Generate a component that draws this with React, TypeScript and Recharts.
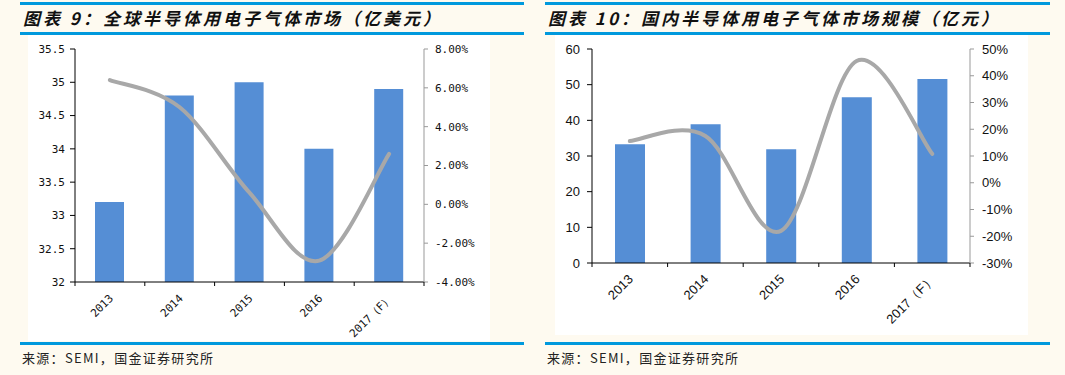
import React from 'react';
import { ComposedChart, Bar, Line, XAxis, YAxis } from 'recharts';

// 图表 9：全球半导体用电子气体市场（亿美元）
const globalYears = ['2013', '2014', '2015', '2016', '2017（F）'];
const globalMarket = [33.2, 34.8, 35.0, 34.0, 34.9];
const globalGrowth = [6.4, 5.0, 0.6, -2.9, 2.6];
const globalLeftTicks = [32, 32.5, 33, 33.5, 34, 34.5, 35, 35.5];
const globalRightTicks = [-4, -2, 0, 2, 4, 6, 8];

// 图表 10：国内半导体用电子气体市场规模（亿元）
const chinaYears = ['2013', '2014', '2015', '2016', '2017（F）'];
const chinaMarket = [33.3, 38.9, 31.9, 46.5, 51.6];
const chinaGrowth = [15.6, 17.5, -18.0, 45.5, 10.8];
const chinaLeftTicks = [0, 10, 20, 30, 40, 50, 60];
const chinaRightTicks = [-30, -20, -10, 0, 10, 20, 30, 40, 50];

const CREAM = '#fefaf0';
const BLUE = '#0099dd';
const BAR = '#558ed5';
const GREY_LINE = '#a8a8a8';
const CJK = '"Noto Sans CJK SC", sans-serif';

// excel style smoothed line (catmull-rom through every point)
function excelCurve(context: any) {
  let pts: number[][] = [];
  return {
    areaStart() {},
    areaEnd() {},
    lineStart() { pts = []; },
    point(x: number, y: number) { pts.push([+x, +y]); },
    lineEnd() {
      if (!pts.length) return;
      context.moveTo(pts[0][0], pts[0][1]);
      for (let i = 0; i < pts.length - 1; i++) {
        const p0 = pts[i - 1] || pts[i];
        const p1 = pts[i];
        const p2 = pts[i + 1];
        const p3 = pts[i + 2] || p2;
        const t = 1 / 6;
        context.bezierCurveTo(
          p1[0] + (p2[0] - p0[0]) * t, p1[1] + (p2[1] - p0[1]) * t,
          p2[0] - (p3[0] - p1[0]) * t, p2[1] - (p3[1] - p1[1]) * t,
          p2[0], p2[1]
        );
      }
    },
  };
}

const makeTick = (bw: number, count: number, font: string, size: number) => (props: any) => {
  const { x, y, payload, index } = props;
  const tx = x + 4;
  const ty = y + 17;
  return (
    <g>
      <line x1={x - bw / 2} y1={y} x2={x - bw / 2} y2={y + 4} stroke="#000" />
      {index === count - 1 && <line x1={x + bw / 2} y1={y} x2={x + bw / 2} y2={y + 4} stroke="#000" />}
      <text x={tx} y={ty} textAnchor="end" transform={`rotate(-45, ${tx}, ${ty})`}
        fontFamily={font} fontSize={size} fill="#111">{payload.value}</text>
    </g>
  );
};

function Panel({ left, width, title, boxLeft, boxWidth, boxHeight, children }: any) {
  return (
    <>
      <div style={{ position: 'absolute', left, top: 2, width, height: 3, background: BLUE }} />
      <div style={{
        position: 'absolute', left: left + 3, top: 7, fontFamily: CJK, fontSize: 17, fontWeight: 700,
        fontStyle: 'italic', letterSpacing: 3, color: '#111', lineHeight: '22px', whiteSpace: 'nowrap'
      }}>{title}</div>
      <div style={{ position: 'absolute', left, top: 32, width, height: 3, background: BLUE }} />
      <div style={{ position: 'absolute', left: boxLeft, top: 35, width: boxWidth, height: boxHeight, background: '#fff' }} />
      {children}
      <div style={{ position: 'absolute', left, top: 342, width, height: 3, background: BLUE }} />
      <div style={{
        position: 'absolute', left: left + 2, top: 349, fontFamily: CJK, fontSize: 13, letterSpacing: 1.3,
        color: '#222', lineHeight: '18px', whiteSpace: 'nowrap'
      }}>来源：SEMI，国金证券研究所</div>
    </>
  );
}

export default function App() {
  const globalData = globalYears.map((year, i) => ({ year, value: globalMarket[i], growth: globalGrowth[i] }));
  const chinaData = chinaYears.map((year, i) => ({ year, value: chinaMarket[i], growth: chinaGrowth[i] }));

  const mono = '"DejaVu Sans Mono", monospace';
  const sans = '"Liberation Sans", Arial, sans-serif';

  return (
    <div style={{ position: 'absolute', left: 0, top: 0, width: 1065, height: 375, background: CREAM, overflow: 'hidden' }}>
      <Panel left={20} width={504} title="图表 9：全球半导体用电子气体市场（亿美元）" boxLeft={28} boxWidth={462} boxHeight={306}>
        <div style={{ position: 'absolute', left: 20, top: 40 }}>
          <ComposedChart width={480} height={300} data={globalData} margin={{ top: 9, right: 0, bottom: 0, left: 0 }}>
            <XAxis dataKey="year" height={58} interval={0} axisLine={{ stroke: '#000' }} tickLine={false}
              tickSize={0} tickMargin={0} tick={makeTick(349 / 5, 5, mono, 11)} />
            <YAxis yAxisId="left" width={55} domain={[32, 35.5]} ticks={globalLeftTicks} interval={0}
              axisLine={{ stroke: '#000' }} tickLine={{ stroke: '#000' }} tickSize={5} tickMargin={5}
              tick={{ fontSize: 11, fontFamily: mono, fill: '#111' }} />
            <YAxis yAxisId="right" orientation="right" width={76} domain={[-4, 8]} ticks={globalRightTicks} interval={0}
              axisLine={{ stroke: '#999' }} tickLine={{ stroke: '#999' }} tickSize={4} tickMargin={7}
              tickFormatter={(v: number) => `${v.toFixed(2)}%`}
              tick={{ fontSize: 11, fontFamily: mono, fill: '#111', textAnchor: 'start' }} />
            <Bar yAxisId="left" dataKey="value" fill={BAR} barSize={29} isAnimationActive={false} />
            <Line yAxisId="right" dataKey="growth" type={excelCurve as any} stroke={GREY_LINE} strokeWidth={4}
              strokeLinecap="round" dot={false} activeDot={false} isAnimationActive={false} />
          </ComposedChart>
        </div>
      </Panel>
      <Panel left={545} width={505} title="图表 10：国内半导体用电子气体市场规模（亿元）" boxLeft={555} boxWidth={473} boxHeight={300}>
        <div style={{ position: 'absolute', left: 540, top: 40 }}>
          <ComposedChart width={480} height={300} data={chinaData} margin={{ top: 9, right: 0, bottom: 0, left: 0 }}>
            <XAxis dataKey="year" height={77} interval={0} axisLine={{ stroke: '#000' }} tickLine={false}
              tickSize={0} tickMargin={0} tick={makeTick(378 / 5, 5, sans, 13)} />
            <YAxis yAxisId="left" width={52} domain={[0, 60]} ticks={chinaLeftTicks} interval={0}
              axisLine={{ stroke: '#000' }} tickLine={{ stroke: '#000' }} tickSize={5} tickMargin={7}
              tick={{ fontSize: 13, fontFamily: sans, fill: '#111' }} />
            <YAxis yAxisId="right" orientation="right" width={50} domain={[-30, 50]} ticks={chinaRightTicks} interval={0}
              axisLine={{ stroke: '#999' }} tickLine={{ stroke: '#999' }} tickSize={4} tickMargin={8}
              tickFormatter={(v: number) => `${v}%`}
              tick={{ fontSize: 13, fontFamily: sans, fill: '#111', textAnchor: 'start' }} />
            <Bar yAxisId="left" dataKey="value" fill={BAR} barSize={30} isAnimationActive={false} />
            <Line yAxisId="right" dataKey="growth" type={excelCurve as any} stroke={GREY_LINE} strokeWidth={4}
              strokeLinecap="round" dot={false} activeDot={false} isAnimationActive={false} />
          </ComposedChart>
        </div>
      </Panel>
    </div>
  );
}
